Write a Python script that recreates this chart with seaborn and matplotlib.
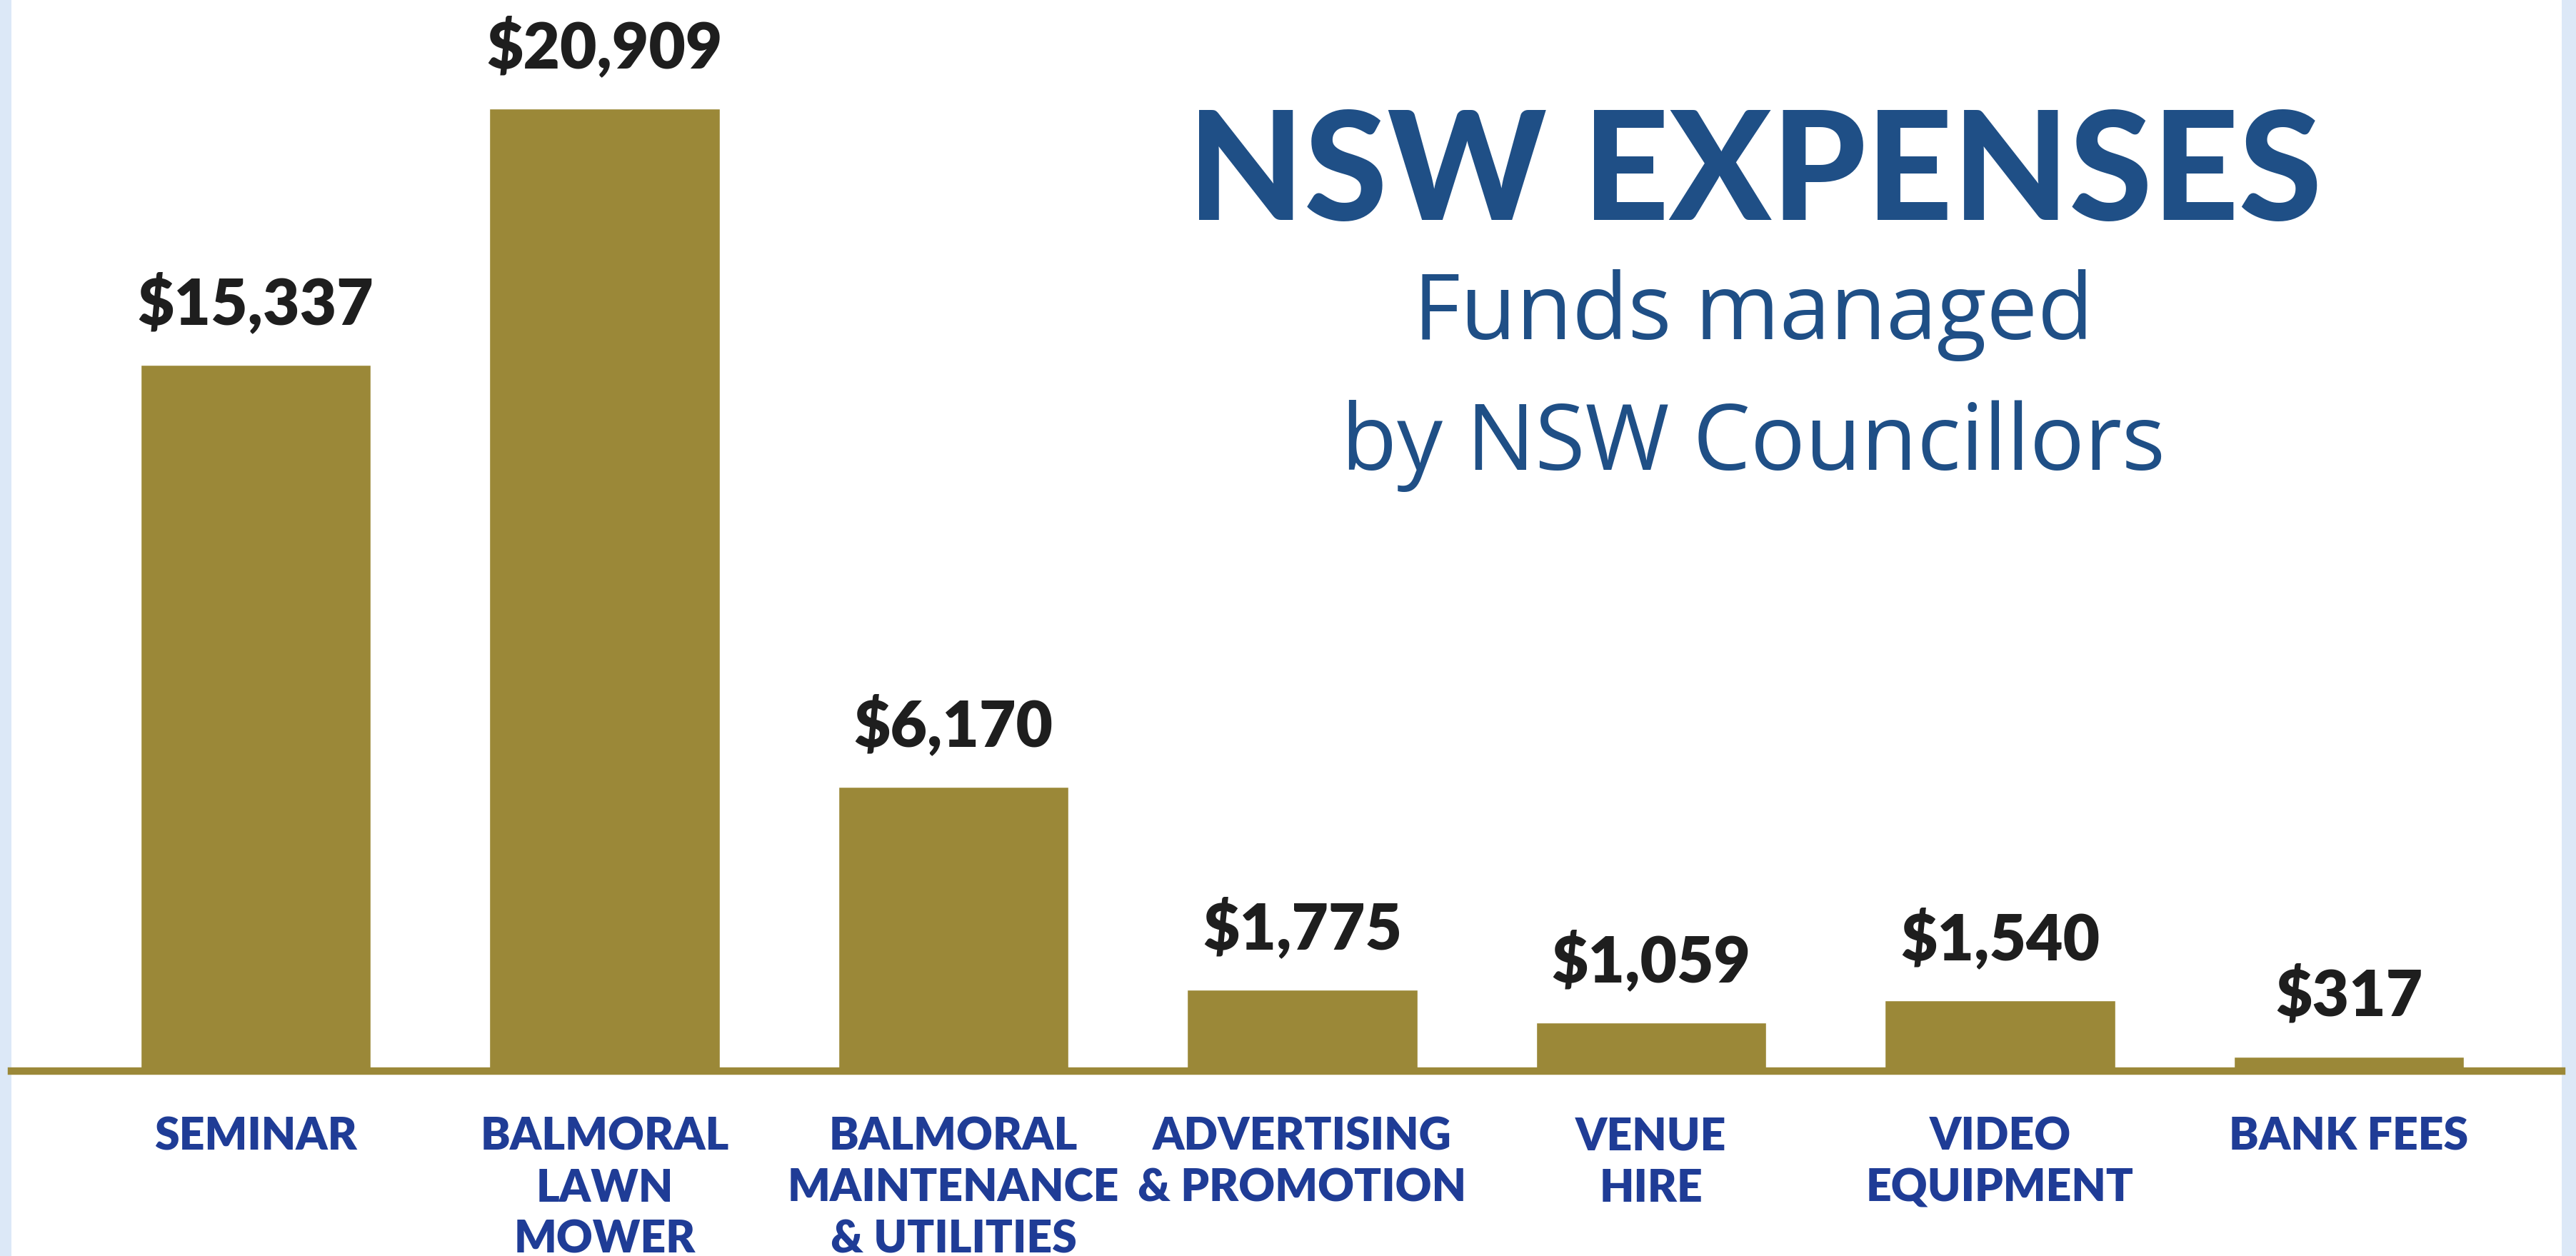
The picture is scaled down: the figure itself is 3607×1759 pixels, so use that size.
import matplotlib
matplotlib.use("Agg")
import matplotlib.pyplot as plt
import seaborn as sns
import pandas as pd
from matplotlib.patches import Rectangle

categories = ["SEMINAR", "BALMORAL\nLAWN\nMOWER", "BALMORAL\nMAINTENANCE\n& UTILITIES",
              "ADVERTISING\n& PROMOTION", "VENUE\nHIRE", "VIDEO\nEQUIPMENT", "BANK FEES"]
values = [15337, 20909, 6170, 1775, 1059, 1540, 317]
value_labels = ["$15,337", "$20,909", "$6,170", "$1,775", "$1,059", "$1,540", "$317"]
title = "NSW EXPENSES"
subtitle = "Funds managed\nby NSW Councillors"

GOLD = "#9b8838"
TITLE_BLUE = "#1f4f86"
LABEL_BLUE = "#1f3c96"
BORDER = "#dce8f7"

sns.set_theme(style="white")
plt.rcParams["font.family"] = ["Lato", "DejaVu Sans"]

W, H = 3607, 1759
fig = plt.figure(figsize=(W / 100, H / 100), dpi=100)
fig.patch.set_facecolor(BORDER)

fig.add_artist(Rectangle((16 / W, 0), (3587 - 16) / W, 1, transform=fig.transFigure,
                         facecolor="white", edgecolor="none", zorder=0))

ax = fig.add_axes([16 / W, (H - 1500) / H, (3587 - 16) / W, 1500 / H])
ax.set_facecolor("none")

df = pd.DataFrame({"category": categories, "value": values})
sns.barplot(data=df, x="category", y="value", color=GOLD, saturation=1, width=0.66, ax=ax)

ax.set_xlim(-0.70, 6.61)
ax.set_ylim(0, 23266)

for c in ax.containers:
    ax.bar_label(c, labels=value_labels, padding=30, fontsize=64, fontweight="heavy",
                 color="#1e1e1e", family=["Lato", "DejaVu Sans"])

for s in ["top", "left", "right"]:
    ax.spines[s].set_visible(False)
ax.spines["bottom"].set_color(GOLD)
ax.spines["bottom"].set_linewidth(7.5)
ax.set_yticks([])
ax.set_xlabel("")
ax.set_ylabel("")
ax.tick_params(axis="x", length=0, pad=46)
for lbl in ax.get_xticklabels():
    lbl.set_fontsize(45)
    lbl.set_fontweight("heavy")
    lbl.set_color(LABEL_BLUE)
    lbl.set_linespacing(1.32)
    lbl.set_multialignment("center")
    lbl.set_family(["Lato", "DejaVu Sans"])

fig.text(2457 / W, 1 - 246 / H, title, ha="center", va="center", fontsize=152,
         fontweight="black", color=TITLE_BLUE, family=["Lato", "DejaVu Sans"])
fig.text(2455 / W, 1 - 533 / H, subtitle, ha="center", va="center", fontsize=92,
         color=TITLE_BLUE, linespacing=1.55, family=["Open Sans", "DejaVu Sans"])

fig.savefig("out.png", dpi=100, facecolor=fig.get_facecolor())
